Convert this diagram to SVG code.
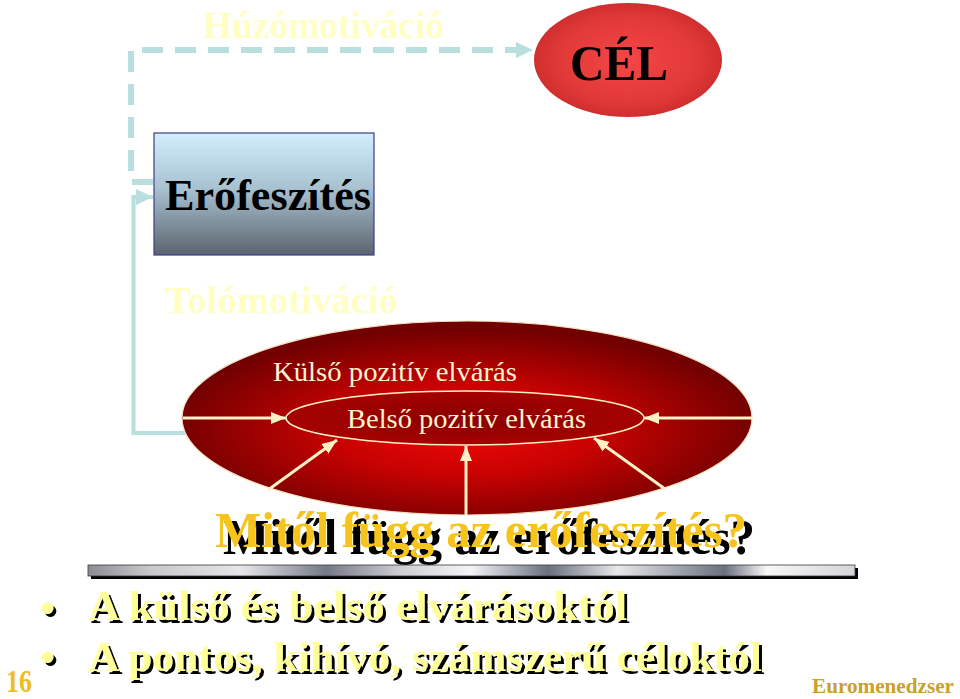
<svg xmlns="http://www.w3.org/2000/svg" width="960" height="699" viewBox="0 0 960 699">
<defs>
<style>
text{font-family:"Liberation Serif","Times New Roman",serif;font-weight:bold}
.lbl{fill:#FFFFC4;font-size:37px}
.conn{fill:none;stroke:#B8DEDE}
.inarr{stroke:#FFF0C6;stroke-width:3;fill:none}
.cream{fill:#FFF3CF;font-weight:normal;font-size:27px}
.title{font-size:50px;fill:#F6C41C}
.bul{font-size:43px;fill:#FFFF99}
</style>
<filter id="shTitle" x="-5%" y="-20%" width="115%" height="150%">
<feOffset in="SourceAlpha" dx="8" dy="7" result="o"/>
<feFlood flood-color="#000"/>
<feComposite in2="o" operator="in" result="s"/>
<feMerge><feMergeNode in="s"/><feMergeNode in="SourceGraphic"/></feMerge>
</filter>
<filter id="shBul" x="-5%" y="-20%" width="115%" height="150%">
<feOffset in="SourceAlpha" dx="3" dy="3" result="o"/>
<feFlood flood-color="#000"/>
<feComposite in2="o" operator="in" result="s"/>
<feMerge><feMergeNode in="s"/><feMergeNode in="SourceGraphic"/></feMerge>
</filter>
<radialGradient id="gCel" cx="50%" cy="50%" r="55%">
<stop offset="0" stop-color="#F64646"/>
<stop offset="0.7" stop-color="#E03838"/>
<stop offset="1" stop-color="#C92A2A"/>
</radialGradient>
<linearGradient id="gBox" x1="0" y1="0" x2="0" y2="1">
<stop offset="0" stop-color="#D2EEFD"/>
<stop offset="0.45" stop-color="#A8C2D2"/>
<stop offset="1" stop-color="#5C646E"/>
</linearGradient>
<radialGradient id="gBig" cx="50%" cy="56%" r="52%">
<stop offset="0" stop-color="#F00808"/>
<stop offset="0.45" stop-color="#C80202"/>
<stop offset="1" stop-color="#720000"/>
</radialGradient>
<radialGradient id="gIn" cx="50%" cy="50%" r="55%">
<stop offset="0" stop-color="#8A0000"/>
<stop offset="1" stop-color="#A80202"/>
</radialGradient>
<linearGradient id="gBar" x1="0" y1="0" x2="1" y2="0">
<stop offset="0" stop-color="#8C8C94"/>
<stop offset="0.08" stop-color="#C8C8CC"/>
<stop offset="0.2" stop-color="#E6E6EA"/>
<stop offset="0.31" stop-color="#767A88"/>
<stop offset="0.41" stop-color="#D0D0D4"/>
<stop offset="0.5" stop-color="#F4F4F6"/>
<stop offset="0.6" stop-color="#6A7080"/>
<stop offset="0.69" stop-color="#E8E8EA"/>
<stop offset="0.83" stop-color="#6A7080"/>
<stop offset="0.885" stop-color="#F8F8F8"/>
<stop offset="1" stop-color="#D4D4D8"/>
</linearGradient>
<marker id="mTeal" markerUnits="userSpaceOnUse" markerWidth="20" markerHeight="20" viewBox="0 0 20 20" refX="18" refY="10" orient="auto">
<path d="M1,2 L18,10 L1,18 Z" fill="#B8DEDE"/>
</marker>
<marker id="mCream" markerUnits="userSpaceOnUse" markerWidth="16" markerHeight="14" viewBox="0 0 16 14" refX="15" refY="7" orient="auto">
<path d="M0,1 L15,7 L0,13 Z" fill="#FFF0C6"/>
</marker>
</defs>
<rect width="960" height="699" fill="#FFFFFF"/>

<g id="labels-motivation">
<text class="lbl" x="203" y="38" textLength="241" lengthAdjust="spacingAndGlyphs">Húzómotiváció</text>
<text class="lbl" x="165" y="313" textLength="233" lengthAdjust="spacingAndGlyphs">Tolómotiváció</text>
</g>

<g id="connectors">
<path class="conn" d="M153,182 L131,182 L131,50 L533,50" stroke-width="6" stroke-dasharray="21 12" marker-end="url(#mTeal)"/>
<path class="conn" d="M187,433 L133.5,433 L133.5,197 L153,197" stroke-width="4" marker-end="url(#mTeal)"/>
</g>

<g id="node-cel">
<ellipse cx="628" cy="60" rx="94" ry="57" fill="url(#gCel)"/>
<text x="570" y="80" font-size="50" fill="#000" textLength="98" lengthAdjust="spacingAndGlyphs">CÉL</text>
</g>

<g id="node-erofeszites">
<rect x="154" y="133" width="220" height="122" fill="url(#gBox)" stroke="#3C3C8C" stroke-width="1.2"/>
<text x="165" y="210" font-size="45" fill="#000" textLength="206" lengthAdjust="spacingAndGlyphs">Erőfeszítés</text>
</g>

<g id="node-kulso">
<ellipse cx="467" cy="418" rx="285" ry="97" fill="url(#gBig)" stroke="#F2E2C4" stroke-width="1.2"/>
<text class="cream" x="273" y="381" textLength="244" lengthAdjust="spacingAndGlyphs">Külső pozitív elvárás</text>
</g>

<g id="node-belso">
<ellipse cx="465" cy="418" rx="179" ry="27" fill="url(#gIn)" stroke="#FFF0C6" stroke-width="1.5"/>
<text class="cream" x="347" y="428" textLength="239" lengthAdjust="spacingAndGlyphs">Belső pozitív elvárás</text>
</g>

<g id="inner-arrows">
<line class="inarr" x1="183" y1="418" x2="286" y2="418" marker-end="url(#mCream)"/>
<line class="inarr" x1="752" y1="418" x2="644" y2="418" marker-end="url(#mCream)"/>
<line class="inarr" x1="268" y1="490" x2="337" y2="440" marker-end="url(#mCream)"/>
<line class="inarr" x1="466" y1="515" x2="466" y2="446" marker-end="url(#mCream)"/>
<line class="inarr" x1="665" y1="489" x2="594" y2="438" marker-end="url(#mCream)"/>
</g>

<g id="title">
<text class="title" x="215" y="547" textLength="532" lengthAdjust="spacingAndGlyphs" filter="url(#shTitle)">Mitől függ az erőfeszítés?</text>
<rect x="91" y="568" width="767" height="11" fill="#000"/>
<rect x="88" y="565" width="767" height="11" fill="url(#gBar)" stroke="#3A3A3A" stroke-width="0.8"/>
</g>

<g id="bullets" filter="url(#shBul)">
<text class="bul" x="40" y="622" font-size="36">•</text>
<text class="bul" x="88" y="620" textLength="539" lengthAdjust="spacingAndGlyphs">A külső és belső elvárásoktól</text>
<text class="bul" x="40" y="671" font-size="36">•</text>
<text class="bul" x="88" y="671" textLength="674" lengthAdjust="spacingAndGlyphs">A pontos, kihívó, számszerű céloktól</text>
</g>

<g id="footer">
<text x="6" y="692" font-size="32" fill="#EFBC22" textLength="26" lengthAdjust="spacingAndGlyphs">16</text>
<text x="812" y="693" font-size="21" fill="#C9A032" textLength="142" lengthAdjust="spacingAndGlyphs">Euromenedzser</text>
</g>
</svg>
